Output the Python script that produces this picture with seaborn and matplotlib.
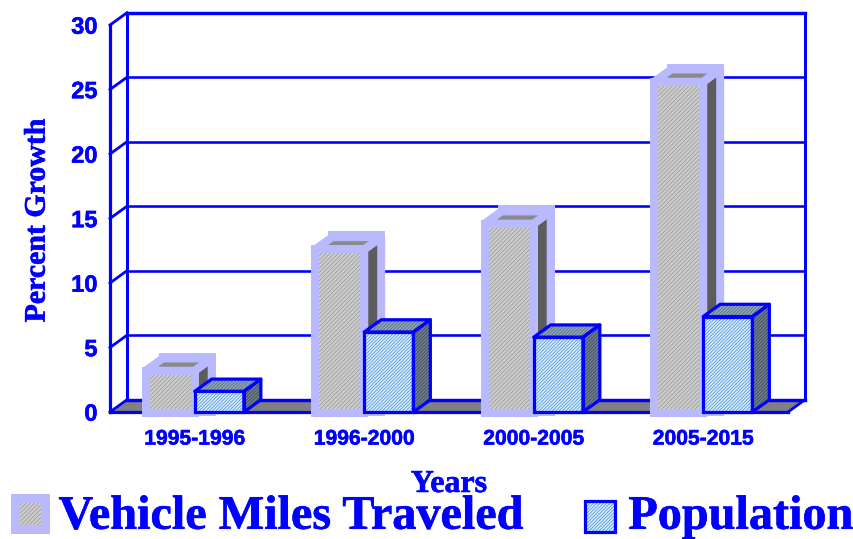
import matplotlib
matplotlib.use("Agg")
import matplotlib.pyplot as plt
import matplotlib.patheffects as pe
from matplotlib.legend_handler import HandlerTuple
from matplotlib.patches import Patch, Polygon, Rectangle
import pandas as pd
import seaborn as sns

periods = ['1995-1996', '1996-2000', '2000-2005', '2005-2015']
vehicle_miles = [3.2, 12.6, 14.6, 25.6]
population = [1.6, 6.2, 5.8, 7.4]
yticks = [0, 5, 10, 15, 20, 25, 30]
series_names = ['Vehicle Miles Traveled', 'Population']

BLUE = '#0000ff'
HALO = '#b9b9ff'
PX = 0.72  # one pixel in points at dpi 100
DX = 0.1   # depth of the fake 3d, category units
DY = 0.95  # depth, value units
GRAY_H = '////////'
BLUE_H = '//////////'

sns.set_theme(style='white')
plt.rcParams['hatch.linewidth'] = 0.5
plt.rcParams['text.hinting'] = 'none'
SERIF = 'Liberation Serif'
SANS = 'Liberation Sans'

df = pd.DataFrame({'period': periods * 2,
                   'growth': vehicle_miles + population,
                   'series': [series_names[0]] * 4 + [series_names[1]] * 4})

fig = plt.figure(figsize=(8.54, 5.39), dpi=100)
ax = fig.add_axes([110 / 854, 127 / 539, 678 / 854, 387 / 539])
ax.set_facecolor('none')

sns.barplot(data=df, x='period', y='growth', hue='series', ax=ax, width=0.58, gap=0,
            palette=['#cdcdcd', '#dcecfa'], legend=False, errorbar=None, clip_on=False)
ax.set_xlim(-0.5, 3.5)
ax.set_ylim(0, 30)


def faces(p):
    x0, x1 = p.get_x(), p.get_x() + p.get_width()
    h = p.get_height()
    side = [(x1, 0), (x1 + DX, DY), (x1 + DX, h + DY), (x1, h)]
    top = [(x0, h), (x0 + DX, h + DY), (x1 + DX, h + DY), (x1, h)]
    return side, top


def flat(pts, fc, hatch_col, hatch, z):
    ax.add_patch(Polygon(pts, closed=True, facecolor=fc, edgecolor=hatch_col, hatch=hatch,
                         lw=0, zorder=z, clip_on=False))


vmt_bars, pop_bars = ax.containers
for p in vmt_bars:
    side, top = faces(p)
    # back face outline gives the square halo corners
    ax.add_patch(Rectangle((p.get_x() + DX, 0), p.get_width(), p.get_height() + DY + 0.15, facecolor='none',
                           edgecolor=HALO, lw=8 * PX, joinstyle='miter', zorder=3.5, clip_on=False))
    flat(side, '#5c5c5c', '#5c5c5c', None, 4)
    flat(top, '#8a8a8a', '#8a8a8a', None, 4)
    for pts in (side, top):
        ax.add_patch(Polygon(pts, closed=True, facecolor='none', edgecolor=HALO, lw=8 * PX,
                             joinstyle='bevel', zorder=4.1, clip_on=False))
    p.set(edgecolor='#959595', hatch=GRAY_H, lw=0, zorder=4.2)
    ax.add_patch(Rectangle((p.get_x(), -0.1), p.get_width(), p.get_height() + 0.1, facecolor='none',
                           edgecolor=HALO, lw=8 * PX, joinstyle='miter', zorder=4.3, clip_on=False))
for p in pop_bars:
    side, top = faces(p)
    flat(side, '#7c7c7c', '#1c4a80', BLUE_H, 6)
    flat(top, '#a2a2a2', '#2470b0', BLUE_H, 6)
    p.set(edgecolor='#2f8ae4', hatch=BLUE_H, lw=0, zorder=6.2)
    for pts in (side, top):
        ax.add_patch(Polygon(pts, closed=True, facecolor='none', edgecolor=BLUE, lw=3.2 * PX,
                             joinstyle='round', zorder=6.3, clip_on=False))
    ax.add_patch(Rectangle((p.get_x(), 0), p.get_width(), p.get_height(), facecolor='none',
                           edgecolor=BLUE, lw=3.2 * PX, joinstyle='miter', zorder=6.4, clip_on=False))

# back wall, floor and grid, all in data units from the front axes
xl, xr = -0.5, 3.5
ax.add_patch(Polygon([(xl, 0), (xl + DX, DY), (xr + DX, DY), (xr, 0)], closed=True,
                     facecolor='#808080', edgecolor='none', zorder=1, clip_on=False))
wall = dict(color=BLUE, clip_on=False, solid_capstyle='projecting')
for t in yticks:
    thick = 3.4 if t in (0, 30) else 2.6
    ax.plot([xl + DX, xr + DX], [t + DY, t + DY], lw=thick * PX, zorder=1.5, **wall)
    ax.plot([xl, xl + DX], [t, t + DY], lw=2.8 * PX, zorder=1.5, **wall)
ax.plot([xl + DX, xl + DX], [DY, 30 + DY], lw=3 * PX, zorder=1.5, **wall)
ax.plot([xr + DX, xr + DX], [DY, 30 + DY], lw=3 * PX, zorder=1.5, **wall)
ax.plot([xr, xr + DX], [0, DY], lw=2.8 * PX, zorder=1.5, **wall)

sns.despine(ax=ax, top=True, right=True)
for s in ('left', 'bottom'):
    ax.spines[s].set(color=BLUE, lw=3.2 * PX, zorder=2)

ax.set_yticks(yticks)
ax.set_xticks(range(4))
ax.set_xticklabels(periods, fontfamily=SANS, fontweight='bold', fontsize=15.2, color=BLUE)
ax.set_xticks([-0.5, 0.5, 1.5, 2.5, 3.5], minor=True)
ax.tick_params(axis='x', which='major', length=0, pad=12.5)
ax.tick_params(axis='x', which='minor', length=6, width=2.6 * PX, color=BLUE, direction='out')
ax.tick_params(axis='y', length=6, width=2.6 * PX, color=BLUE, pad=3, direction='out')
for lab in ax.get_yticklabels():
    lab.set(fontfamily=SANS, fontweight='bold', fontsize=17, color=BLUE)

ax.set_xlabel('Years', fontfamily=SERIF, fontweight='bold', fontsize=23, color=BLUE, labelpad=15)
ax.set_ylabel('Percent Growth', fontfamily=SERIF, fontweight='bold', fontsize=21.5, color=BLUE, labelpad=14.5)
ax.yaxis.label.set_y(0.495)

handles = [(Patch(facecolor='#cdcdcd', edgecolor='#959595', hatch=GRAY_H, lw=0),
            Patch(facecolor='none', edgecolor=HALO, lw=9 * PX)),
           (Patch(facecolor='#dcecfa', edgecolor='#2f8ae4', hatch=BLUE_H, lw=0),
            Patch(facecolor='none', edgecolor=BLUE, lw=3.2 * PX))]
leg = fig.legend(handles, series_names, ncols=2, frameon=False, loc='lower left',
                 bbox_to_anchor=(15.5 / 854, 0), borderaxespad=0, borderpad=0,
                 prop=dict(family=SERIF, weight='bold', size=34.7), labelcolor=BLUE,
                 handler_map={tuple: HandlerTuple(ndivide=1, pad=0)},
                 handlelength=0.622, handleheight=0.622, handletextpad=0.27, columnspacing=1.3)

# nudge the swatches, they do not sit quite on the text baseline
rects = leg.findobj(Rectangle)
for r in rects[:2]:
    r.set_y(r.get_y() - 2 * PX)
for r in rects[2:4]:
    r.set_y(r.get_y() - 5 * PX)

bold = [pe.withStroke(linewidth=0.4, foreground=BLUE)]
for t in (ax.get_xticklabels() + ax.get_yticklabels() + leg.get_texts()
          + [ax.xaxis.label, ax.yaxis.label]):
    t.set_path_effects(bold)

fig.savefig('out.png', dpi=100)
